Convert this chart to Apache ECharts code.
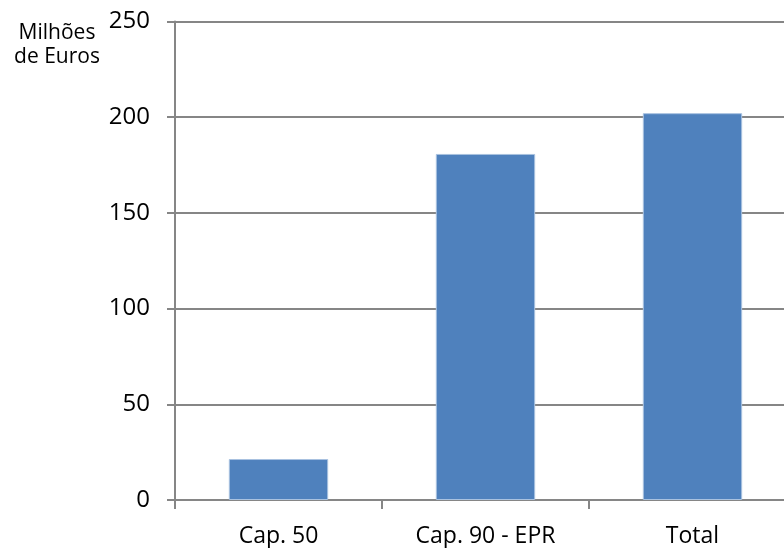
<!DOCTYPE html>
<html>
<head>
<meta charset="utf-8">
<script src="https://cdn.jsdelivr.net/npm/echarts@6/dist/echarts.min.js"></script>
<style>html,body{margin:0;padding:0;background:#fff;overflow:hidden;}#c{width:800px;height:548px;}</style>
</head>
<body>
<div id="c"></div>
<script>
const categories = ['Cap. 50', 'Cap. 90 - EPR', 'Total'];
const values = [21.4, 180.8, 202.1];
const yTicks = { min: 0, max: 250, interval: 50 };
const unitLabel = 'Milhões\nde Euros';

const chart = echarts.init(document.getElementById('c'));
const font = '"Open Sans", "Liberation Sans", sans-serif';
chart.setOption({
  animation: false,
  title: {
    text: unitLabel,
    left: 52, top: 16, textAlign: 'center',
    textStyle: { fontFamily: font, fontSize: 21, fontWeight: 'normal', color: '#000', lineHeight: 24, align: 'center' }
  },
  grid: { left: 175, top: 21.5, right: 4, bottom: 47 },
  xAxis: {
    type: 'category',
    data: categories,
    axisLine: { lineStyle: { color: '#868686', width: 2 } },
    axisTick: { show: true, length: 9, lineStyle: { color: '#868686', width: 2 } },
    axisLabel: { fontFamily: font, fontSize: 23, color: '#000', margin: 25 }
  },
  yAxis: {
    type: 'value',
    min: yTicks.min, max: yTicks.max, interval: yTicks.interval,
    axisLine: { show: true, lineStyle: { color: '#868686', width: 2 } },
    axisTick: { show: true, length: 8, lineStyle: { color: '#868686', width: 2 } },
    splitLine: { lineStyle: { color: '#868686', width: 2 } },
    axisLabel: { fontFamily: font, fontSize: 24, color: '#000', margin: 25 }
  },
  series: [{
    type: 'bar',
    data: values,
    barWidth: '48%',
    itemStyle: { color: '#4F81BD', borderColor: '#A9C2E0', borderWidth: 1 }
  }]
});
</script>
</body>
</html>
